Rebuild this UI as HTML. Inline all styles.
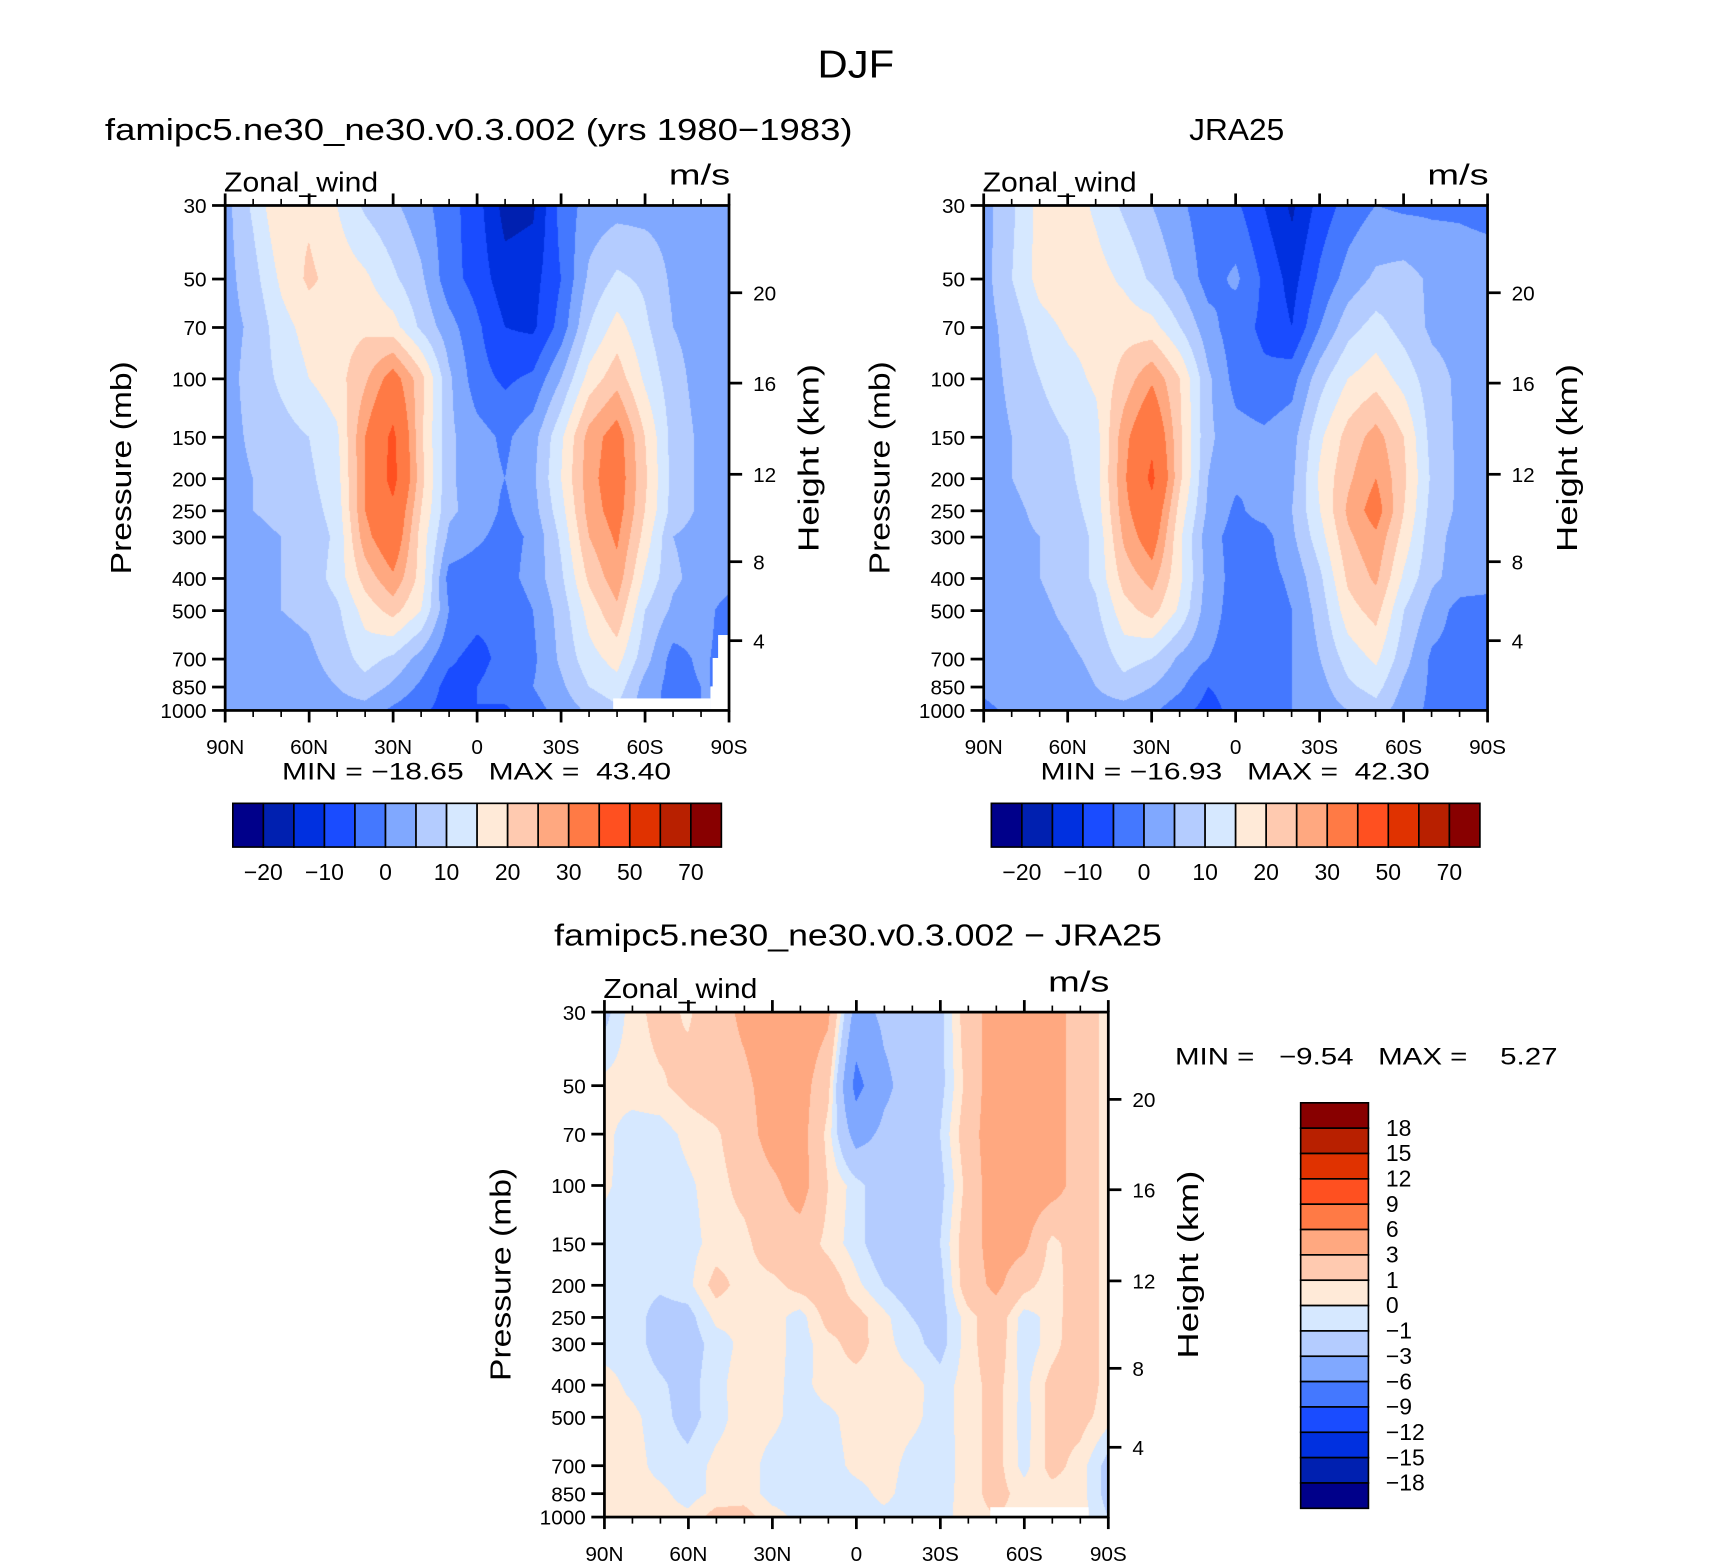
<!DOCTYPE html>
<html><head><meta charset="utf-8">
<style>
html,body{margin:0;padding:0;background:#fff;}
#wrap{position:relative;width:1710px;height:1561px;overflow:hidden;background:#fff;}
canvas{position:absolute;}
svg{position:absolute;left:0;top:0;}
text{font-family:"Liberation Sans",sans-serif;fill:#000;}
</style></head>
<body>
<div id="wrap">
<canvas id="cA"></canvas>
<canvas id="cB"></canvas>
<canvas id="cC"></canvas>
<svg id="svg" width="1710" height="1561" viewBox="0 0 1564.5 1428.2">
<text x="748" y="71" font-size="36" textLength="70" lengthAdjust="spacingAndGlyphs">DJF</text>
<text x="96" y="128" font-size="28" textLength="684" lengthAdjust="spacingAndGlyphs">famipc5.ne30_ne30.v0.3.002 (yrs 1980−1983)</text>
<text x="1088" y="128" font-size="28" textLength="87" lengthAdjust="spacingAndGlyphs">JRA25</text>
<text x="507" y="865" font-size="28" textLength="556" lengthAdjust="spacingAndGlyphs">famipc5.ne30_ne30.v0.3.002 − JRA25</text>
<g id="overlay"></g>
</svg>
</div>
<script>
// ---- data ----
const lats = [90,80,70,60,50,40,30,20,10,0,-10,-20,-30,-40,-50,-60,-70,-80,-90];
const latTickLabels = ["90N","60N","30N","0","30S","60S","90S"];
const pressures = [30,50,70,100,150,200,250,300,400,500,700,850,1000];
const pressureTickLabels = ["30","50","70","100","150","200","250","300","400","500","700","850","1000"];
const heightTickLabels = ["20","16","12","8","4"];
const heightTickPressures = [55,103,194,356,616];
const mainLevels = [-20,-15,-10,-5,0,5,10,15,20,25,30,40,50,60,70];
const mainLevelLabels = ["−20","−10","0","10","20","30","50","70"];
const diffLevels = [-18,-15,-12,-9,-6,-3,-1,0,1,3,6,9,12,15,18];
const diffLevelLabels = ["−18","−15","−12","−9","−6","−3","−1","0","1","3","6","9","12","15","18"];
const palette = ["#00008a","#0020b0","#0030e0","#1a4cff","#4478ff","#80a8ff","#b4ccff","#d6e8ff","#ffead8","#ffcab0","#ffa880","#ff7a45","#ff5020","#e03200","#b82000","#880000"];

const modelField = [
[3,11,20,19,15,9,6,2,-3,-8,-17,-16,-3,2,3,3,3,3,3],
[3,8,16,21,18,16,11,6,-3,-7,-13,-12,-5,6,11,9,4,3,3],
[3,6,13,17,18,19,17,9,2,-4,-10,-11,-3,10,17,11,5,3,3],
[3,7,11,15,18,24,33,22,6,-3,-6,-4,5,17,23,14,7,3,3],
[3,6,8,10,14,30,42,21,6,2,-1,3,14,27,33,20,8,4,3],
[3,5,7,9,13,30,43,22,6,2,0,4,15,28,34,21,8,4,3],
[3,5,6,8,12,30,38,20,6,3,-1,3,13,27,33,20,8,4,3],
[3,4,5,7,11,28,36,18,4,1,-2,1,11,25,31,18,5,3,3],
[3,3,5,7,12,22,29,18,-2,-3,-2,2,9,21,28,14,6,3,2],
[2,3,5,6,9,17,22,15,0,-3,-4,0,7,17,24,10,4,2,-2],
[2,2,3,4,7,12,9,3,-4,-7,-3,-1,6,13,17,7,-2,1,-2],
[2,2,3,3,5,8,4,-1,-7,-5,-2,0,4,10,13,3,-2,0,0],
[2,2,2,2,3,3,-1,-4,-7,-5,-6,-2,2,6,9,2,-2,0,0]];

const obsField = [
[3,9,17,18,14,9,5,1,-3,-4,-10,-16,-8,-3,0,-1,-1,-1,-2],
[3,10,17,19,17,14,9,4,-2,1,-6,-12,-4,2,6,7,4,3,3],
[3,7,13,16,17,18,17,10,2,-3,-6,-10,0,8,12,8,4,3,3],
[3,6,10,13,16,22,29,20,6,-2,-4,-2,8,15,18,13,7,4,3],
[3,5,8,10,13,28,38,21,6,2,1,3,14,22,27,20,8,4,3],
[3,5,7,9,13,29,42,21,5,1,0,4,16,24,30,21,9,4,3],
[3,4,6,8,12,28,37,18,4,-1,2,5,15,26,33,20,8,4,3],
[3,4,5,7,11,26,34,16,2,-2,-2,4,13,24,29,18,7,3,3],
[3,3,5,7,11,22,27,16,3,-2,-2,1,9,21,26,14,6,3,3],
[2,3,4,6,9,18,22,14,2,-2,-3,0,7,18,22,10,3,-2,-3],
[2,2,3,4,6,12,10,4,0,-2,-2,0,5,12,16,7,-1,-2,-2],
[1,2,3,3,5,8,5,1,-5,-3,-1,0,3,9,12,4,-1,-2,-2],
[-1,1,2,2,3,3,1,-3,-7,-3,-2,0,2,5,8,2,-1,-2,-2]];

const diffField = [
[-1.5,0.5,1.5,0.8,2,3.5,4.5,4.5,3.5,-4,-2.5,-2,-1.5,2,4,4.5,4,2,0.5],
[0.3,0.5,0.8,1.5,2,2.5,4,4,1.5,-7,-3.5,-2,-1.5,1.5,4.5,4.5,4,2,0.5],
[0.3,-0.5,-0.5,0.3,0.8,2,4,4,0.5,-4,-2.5,-2,-1,2,4.5,5,4,2,0.5],
[0.2,-0.5,-0.7,-0.2,0.5,1.5,2.5,4,1,-0.5,-2,-2,-1.5,1.5,4.5,4.5,4,2,0.5],
[-0.5,-0.5,-0.6,-0.4,0.4,0.6,2,2,0.6,-0.5,-2,-2,-1,2,4,3.5,0.5,2,0.5],
[-0.5,-0.5,-0.8,-0.3,1.5,0.5,0.6,1.5,2,0.3,-1,-2,-1.5,2,3.5,1.5,0.3,2,0.5],
[-0.5,-0.5,-1.5,-1.5,0.3,0.3,0.5,-0.5,1.5,1.5,0.3,-1,-1.5,0.5,2,-0.5,0.4,2,0.5],
[-0.5,-0.5,-1.5,-1.7,-0.5,0.3,0.5,-0.5,0.6,1.5,0.4,-0.6,-1.5,0.5,2,-0.7,0.5,2,0.5],
[0.5,-0.3,-0.8,-1.5,-0.3,0.5,0.3,-0.4,0.5,0.5,0.5,0.4,-0.5,0.5,1.5,-0.4,1.5,2,0.5],
[0.5,0.3,-0.6,-1.5,-0.4,0.5,0.3,-0.5,-0.3,0.5,0.5,0.3,-0.5,0.5,1.5,-0.5,1.5,1.5,0.4],
[0.5,0.5,-0.4,-0.6,0.3,0.5,-0.4,-0.6,-0.5,0.3,0.5,-0.4,-0.6,0.5,1.5,-0.4,1.5,0.5,-1.5],
[0.5,0.5,0.3,-0.5,0.3,0.5,-0.4,-0.5,-0.5,-0.4,0.3,-0.5,-0.5,0.5,1.5,0.5,0.5,0.5,-1.5],
[0.5,0.3,0.5,0.3,1.5,1.5,0.4,-0.3,-0.5,-0.5,-0.3,-0.5,-0.4,0.5,1,0.5,0.5,0.5,-1]];

// ---- layout ----
const S = 1.093;
const NS = "http://www.w3.org/2000/svg";
const panels = [
 {id:"A", cv:"cA", x0:206, y0:188, w:461, h:462, field:modelField, levels:mainLevels, min:"−18.65", max:"43.40", key:"model"},
 {id:"B", cv:"cB", x0:900, y0:188, w:461, h:462, field:obsField, levels:mainLevels, min:"−16.93", max:"42.30", key:"jra25"},
 {id:"C", cv:"cC", x0:553, y0:926, w:461, h:462, field:diffField, levels:diffLevels, min:"−9.54", max:"5.27", key:"diff"}
];
const LR = Math.log(1000/30);
function yScale(pn,p){return pn.y0 + Math.log(p/30)/LR*pn.h;}
function xScale(pn,lat){return pn.x0 + (90-lat)/180*pn.w;}
function hexToRgb(h){return [parseInt(h.substr(1,2),16),parseInt(h.substr(3,2),16),parseInt(h.substr(5,2),16)];}
const palRgb = palette.map(hexToRgb);
function levelIndex(v,levels){let k=0;for(const t of levels){if(v>=t)k++;}return k;}

function sample(field,latF,pv){
  const lp=Math.log(pv);
  let j=0;
  while(j<pressures.length-2 && pv>pressures[j+1]) j++;
  const t=Math.min(1,Math.max(0,(lp-Math.log(pressures[j]))/(Math.log(pressures[j+1])-Math.log(pressures[j]))));
  let i=Math.min(lats.length-2,Math.floor(latF));
  const u=Math.min(1,Math.max(0,latF-i));
  const a=field[j][i]*(1-u)+field[j][i+1]*u;
  const b=field[j+1][i]*(1-u)+field[j+1][i+1]*u;
  return a*(1-t)+b*t;
}

function renderField(pn){
  const cv=document.getElementById(pn.cv);
  const W=Math.round(pn.w*S), H=Math.round(pn.h*S);
  cv.width=W; cv.height=H;
  cv.style.left=(pn.x0*S)+"px"; cv.style.top=(pn.y0*S)+"px";
  const ctx=cv.getContext("2d");
  const img=ctx.createImageData(W,H);
  for(let py=0;py<H;py++){
    const pv=30*Math.exp((py+0.5)/H*LR);
    for(let px=0;px<W;px++){
      const latF=(px+0.5)/W*(lats.length-1);
      const v=sample(pn.field,latF,pv);
      const c=palRgb[levelIndex(v,pn.levels)];
      const o=(py*W+px)*4;
      img.data[o]=c[0];img.data[o+1]=c[1];img.data[o+2]=c[2];img.data[o+3]=255;
    }
  }
  ctx.putImageData(img,0,0);
}

const ov=document.getElementById("overlay");
function el(tag,attrs,parent){const e=document.createElementNS(NS,tag);for(const k in attrs)e.setAttribute(k,attrs[k]);(parent||ov).appendChild(e);return e;}

function drawAxes(pn){
  const g=el("g",{});
  
  
  if(pn.id==="A"){
    [[561,639,89,11],[650,628,4,22],[652,602,6,48],[657,581,10,69]].forEach(r=>{
      const m=el("rect",{x:r[0],y:r[1],width:r[2],height:r[3],fill:"#fff"},g);
      
      
    });
  }
  if(pn.id==="C"){
    const m=el("rect",{x:906,y:1379,width:90,height:9,fill:"#fff"},g);
    
    
  }
  const fr=el("rect",{x:pn.x0,y:pn.y0,width:pn.w,height:pn.h,fill:"none",stroke:"#000","stroke-width":2.5},g);
  
  
  pressures.forEach((p,k)=>{
    const y=yScale(pn,p);
    el("line",{x1:pn.x0-12,x2:pn.x0,y1:y,y2:y,stroke:"#000","stroke-width":2.5},g);
    const t=el("text",{x:pn.x0-17,y:y+7,"font-size":19,"text-anchor":"end"},g);
    t.textContent=pressureTickLabels[k];
    
    
  });
  heightTickPressures.forEach((p,k)=>{
    const y=yScale(pn,p);
    el("line",{x1:pn.x0+pn.w,x2:pn.x0+pn.w+12,y1:y,y2:y,stroke:"#000","stroke-width":2.5},g);
    const t=el("text",{x:pn.x0+pn.w+22,y:y+7,"font-size":19},g);
    t.textContent=heightTickLabels[k];
    
    
  });
  for(let lat=90;lat>=-90;lat-=10){
    const x=xScale(pn,lat);
    const major=(lat%30===0);
    const L=major?11:6;
    el("line",{x1:x,x2:x,y1:pn.y0+pn.h,y2:pn.y0+pn.h+L,stroke:"#000","stroke-width":major?2.5:1.5},g);
    el("line",{x1:x,x2:x,y1:pn.y0,y2:pn.y0-L,stroke:"#000","stroke-width":major?2.5:1.5},g);
  }
  [90,60,30,0,-30,-60,-90].forEach((lat,k)=>{
    const t=el("text",{x:xScale(pn,lat),y:pn.y0+pn.h+40,"font-size":19,"text-anchor":"middle"},g);
    t.textContent=latTickLabels[k];
    
    
  });
  let t=el("text",{x:pn.x0-1,y:pn.y0-13,"font-size":25,textLength:141,lengthAdjust:"spacingAndGlyphs"},g);
  t.textContent="Zonal_wind";
  
  
  t=el("text",{x:pn.x0+pn.w-55,y:pn.y0-19,"font-size":26,textLength:56,lengthAdjust:"spacingAndGlyphs"},g);
  t.textContent="m/s";
  
  
  const cy=pn.y0+pn.h/2;
  t=el("text",{x:0,y:0,"font-size":26,"text-anchor":"middle",textLength:195,lengthAdjust:"spacingAndGlyphs",transform:`translate(${pn.x0-86},${cy+9}) rotate(-90)`},g);
  t.textContent="Pressure (mb)";
  
  
  t=el("text",{x:0,y:0,"font-size":26,"text-anchor":"middle",textLength:172,lengthAdjust:"spacingAndGlyphs",transform:`translate(${pn.x0+pn.w+82},${cy}) rotate(-90)`},g);
  t.textContent="Height (km)";
  
  
  if(pn.id!=="C"){
    t=el("text",{x:pn.x0+52,y:pn.y0+pn.h+63,"font-size":22,textLength:356,lengthAdjust:"spacingAndGlyphs"},g);
    t.style.whiteSpace="pre";
    t.textContent="MIN = "+pn.min+"   MAX =  "+pn.max;
  } else {
    t=el("text",{x:1075,y:974,"font-size":22,textLength:350,lengthAdjust:"spacingAndGlyphs"},g);
    t.style.whiteSpace="pre";
    t.textContent="MIN =   "+pn.min+"   MAX =    "+pn.max;
  }
  
  
}

function drawHColorbar(x0,key){
  const g=el("g",{});
  
  
  const y0=735,h=40,bw=447/16;
  palette.forEach((c,k)=>{
    const r=el("rect",{x:x0+k*bw,y:y0,width:bw,height:h,fill:c,stroke:"#000","stroke-width":1.5},g);
    
    
  });
  mainLevelLabels.forEach((lab,k)=>{
    const t=el("text",{x:x0+(1+2*k)*bw,y:y0+h+30,"font-size":21,"text-anchor":"middle"},g);
    t.textContent=lab;
    
    
  });
}
function drawVColorbar(){
  const g=el("g",{});
  
  
  const x0=1190,w=62,y0=1009,bh=371/16;
  for(let k=0;k<16;k++){
    const r=el("rect",{x:x0,y:y0+k*bh,width:w,height:bh,fill:palette[15-k],stroke:"#000","stroke-width":1.5},g);
    
    
  }
  for(let k=1;k<=15;k++){
    const t=el("text",{x:1268,y:y0+k*bh+7,"font-size":21},g);
    t.textContent=diffLevelLabels[15-k];
    
    
  }
}

panels.forEach(p=>{renderField(p);drawAxes(p);});
drawHColorbar(213,"model");
drawHColorbar(907,"jra25");
drawVColorbar();
</script>
</body></html>
